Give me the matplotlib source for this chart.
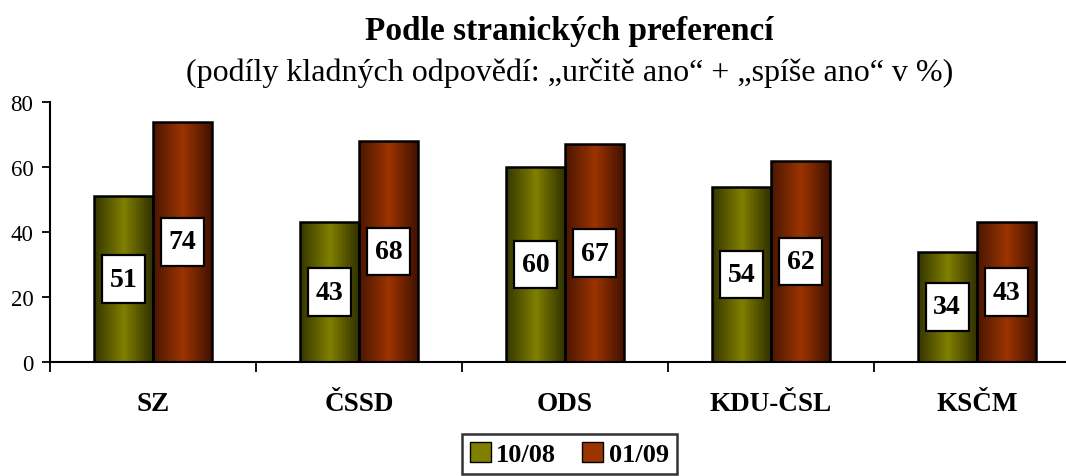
import numpy as np
import matplotlib.pyplot as plt
from matplotlib.patches import Patch
from matplotlib.colors import LinearSegmentedColormap

CATEGORIES = ["SZ", "ČSSD", "ODS", "KDU-ČSL", "KSČM"]
SERIES_NAMES = ["10/08", "01/09"]
VALUES_1008 = [51, 43, 60, 54, 34]
VALUES_0109 = [74, 68, 67, 62, 43]

TITLE = "Podle stranických preferencí"
SUBTITLE = "(podíly kladných odpovědí: „určitě ano“ + „spíše ano“ v %)"

GREEN = ["#353500", "#808000", "#2e2e00"]
RED = ["#4a1600", "#9c3400", "#3e1000"]

plt.rcParams['font.family'] = ['Liberation Serif', 'DejaVu Serif']


def gradient_fill(ax, bar, colors):
    # horizontal cylinder-like shading, clipped to the bar
    cmap = LinearSegmentedColormap.from_list("g", colors)
    x0, y0 = bar.get_x(), bar.get_y()
    w, h = bar.get_width(), bar.get_height()
    grad = np.linspace(0, 1, 256).reshape(1, -1)
    im = ax.imshow(grad, cmap=cmap, aspect="auto",
                   extent=(x0, x0 + w, y0, y0 + h), zorder=2)
    im.set_clip_path(bar)


fig = plt.figure(figsize=(10.66, 4.77), dpi=100)
# the plot area runs a bit past the right edge of the picture
ax = fig.add_axes([0.0469, 0.239, 0.966, 0.545])

x = np.arange(len(CATEGORIES))
width = 0.287
bars1 = ax.bar(x - width / 2, VALUES_1008, width, facecolor="none",
               edgecolor="black", linewidth=1.8, zorder=3)
bars2 = ax.bar(x + width / 2, VALUES_0109, width, facecolor="none",
               edgecolor="black", linewidth=1.8, zorder=3)
for b in bars1:
    gradient_fill(ax, b, GREEN)
for b in bars2:
    gradient_fill(ax, b, RED)

# value labels in white boxes, centred in each bar
for bars, vals in [(bars1, VALUES_1008), (bars2, VALUES_0109)]:
    for b, v in zip(bars, vals):
        ax.text(b.get_x() + b.get_width() / 2, v / 2, str(v),
                ha="center", va="center", fontsize=20, fontweight="bold",
                zorder=5,
                bbox=dict(boxstyle="square,pad=0.27", facecolor="white",
                          edgecolor="black", linewidth=1.6,
                          mutation_aspect=1.5))

ax.set_xlim(-0.5, len(CATEGORIES) - 0.5)
ax.set_ylim(0, 80)
ax.set_yticks([0, 20, 40, 60, 80])
ax.tick_params(axis="y", labelsize=16.5, direction="out", length=6, width=1.3,
               pad=6)
ax.set_xticks(x)
ax.set_xticklabels(CATEGORIES, fontsize=19.5, fontweight="bold")
ax.tick_params(axis="x", which="major", length=0, pad=21)
ax.set_xticks(np.arange(-0.5, len(CATEGORIES)), minor=True)
ax.tick_params(axis="x", which="minor", length=7, width=1.3, direction="out")

for s in ["top", "right"]:
    ax.spines[s].set_visible(False)
ax.spines["left"].set_linewidth(1.5)
ax.spines["bottom"].set_linewidth(1.5)

fig.text(0.534, 0.935, TITLE, ha="center", va="center", fontsize=24,
         fontweight="bold")
fig.text(0.534, 0.848, SUBTITLE, ha="center", va="center", fontsize=23)

handles = [Patch(facecolor=GREEN[1], edgecolor="black"),
           Patch(facecolor=RED[1], edgecolor="black")]
leg = fig.legend(handles, SERIES_NAMES, loc="upper center", ncol=2,
                 bbox_to_anchor=(0.534, 0.088), frameon=True, fancybox=False,
                 edgecolor="black", prop=dict(size=19, weight="bold"),
                 handlelength=0.8, handleheight=0.8, handletextpad=0.2,
                 columnspacing=1.0, borderpad=0.3, borderaxespad=0)
leg.get_frame().set_linewidth(1.8)

fig.savefig("out.png", dpi=100)
